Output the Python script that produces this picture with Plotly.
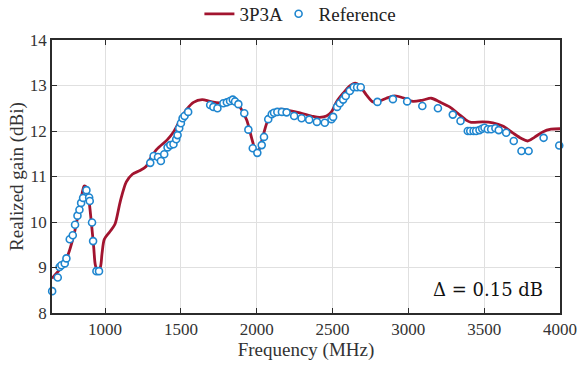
import plotly.graph_objects as go

# 3P3A simulated curve
sim_freq = [650, 706, 750, 794, 826, 849, 862, 877, 892, 908, 925, 936, 951, 969, 980, 995,
            1030, 1065, 1100, 1140, 1180, 1230, 1270, 1300, 1342, 1408, 1451, 1495, 1539, 1583,
            1640, 1693, 1758, 1824, 1857, 1890, 1934, 1967, 1995, 2010, 2033, 2066, 2099, 2153,
            2197, 2285, 2372, 2416, 2460, 2493, 2526, 2570, 2614, 2650, 2680, 2724, 2767, 2811,
            2855, 2910, 2964, 3030, 3096, 3151, 3206, 3272, 3326, 3381, 3414, 3491, 3557, 3622,
            3688, 3743, 3787, 3831, 3886, 3941, 4000]
sim_gain = [8.76, 8.98, 9.23, 9.71, 10.22, 10.63, 10.79, 10.76, 10.52, 10.04, 9.45, 9.05, 8.93,
            9.01, 9.31, 9.62, 9.78, 9.95, 10.45, 10.88, 11.05, 11.13, 11.22, 11.40, 11.60, 11.80,
            11.98, 12.24, 12.48, 12.63, 12.69, 12.65, 12.62, 12.69, 12.67, 12.53, 12.24, 11.84,
            11.55, 11.55, 11.78, 12.17, 12.39, 12.48, 12.46, 12.40, 12.32, 12.30, 12.33, 12.42,
            12.64, 12.83, 12.99, 13.05, 12.99, 12.79, 12.64, 12.66, 12.72, 12.77, 12.73, 12.65,
            12.68, 12.72, 12.64, 12.53, 12.39, 12.24, 12.19, 12.20, 12.18, 12.11, 11.96, 11.84,
            11.78, 11.86, 11.98, 12.04, 12.05]

# Reference measured points
ref_freq = [651, 688, 700, 712, 734, 745, 767, 787, 802, 818, 831, 842, 855, 877, 895, 899, 914,
            921, 943, 960, 1298, 1320, 1349, 1368, 1390, 1412, 1430, 1451, 1469, 1478, 1489, 1500,
            1511, 1524, 1548, 1693, 1714, 1741, 1780, 1803, 1824, 1842, 1857, 1879, 1918, 1945,
            1974, 2004, 2033, 2048, 2076, 2099, 2114, 2136, 2166, 2197, 2247, 2296, 2346, 2397,
            2449, 2493, 2504, 2530, 2548, 2570, 2587, 2614, 2640, 2662, 2686, 2796, 2898, 2992,
            3092, 3195, 3293, 3344, 3392, 3408, 3430, 3447, 3469, 3487, 3502, 3524, 3546, 3574,
            3596, 3645, 3695, 3746, 3793, 3892, 3995]
ref_gain = [8.48, 8.78, 9.01, 9.05, 9.09, 9.20, 9.62, 9.71, 9.94, 10.14, 10.27, 10.42, 10.53,
            10.70, 10.54, 10.46, 9.99, 9.58, 8.92, 8.92, 11.30, 11.45, 11.43, 11.34, 11.49, 11.64,
            11.69, 11.71, 11.82, 11.91, 12.06, 12.17, 12.28, 12.33, 12.42, 12.57, 12.53, 12.50,
            12.61, 12.63, 12.66, 12.69, 12.65, 12.59, 12.39, 12.03, 11.62, 11.52, 11.69, 11.87,
            12.26, 12.37, 12.40, 12.42, 12.42, 12.41, 12.33, 12.28, 12.25, 12.20, 12.18, 12.26,
            12.31, 12.53, 12.61, 12.69, 12.77, 12.88, 12.96, 12.96, 12.96, 12.64, 12.70, 12.65,
            12.55, 12.50, 12.36, 12.22, 12.00, 12.00, 12.00, 12.00, 12.02, 12.05, 12.07, 12.04,
            12.04, 12.06, 12.02, 11.96, 11.78, 11.56, 11.56, 11.85, 11.68]

x_ticks = [1000, 1500, 2000, 2500, 3000, 3500, 4000]
y_ticks = [8, 9, 10, 11, 12, 13, 14]

font_family = "Liberation Serif"

fig = go.Figure()
fig.add_trace(go.Scatter(
    x=sim_freq, y=sim_gain, mode="lines", name="3P3A", legend="legend",
    line=dict(color="#A2142F", width=2.8, shape="spline", smoothing=0.8),
))
fig.add_trace(go.Scatter(
    x=ref_freq, y=ref_gain, mode="markers", name="Reference", legend="legend2",
    marker=dict(symbol="circle", size=7, color="white", line=dict(width=1.6, color="#1F86CF")),
    cliponaxis=False,
))

axis_common = dict(
    showline=True, linecolor="#2b2b2b", linewidth=1.5, mirror="ticks",
    ticks="inside", ticklen=5, tickcolor="#2b2b2b", tickwidth=1.2,
    showgrid=True, gridcolor="#E0E0E0", gridwidth=1, zeroline=False,
    automargin=False,
    tickfont=dict(family=font_family, size=17, color="#333333"),
)

legend_common = dict(orientation="h", xanchor="left", xref="container",
                     y=0.962, yanchor="middle", yref="container",
                     font=dict(family=font_family, size=19, color="#222222"),
                     bgcolor="rgba(0,0,0,0)", itemwidth=30, tracegroupgap=0)

fig.update_layout(
    width=578, height=367,
    margin=dict(l=52, r=18, t=40, b=54, autoexpand=False),
    paper_bgcolor="white", plot_bgcolor="white",
    font=dict(family=font_family, size=17, color="#333333"),
    showlegend=True,
    legend=dict(x=0.345, **legend_common),
    legend2=dict(x=0.482, **legend_common),
    xaxis=dict(range=[650, 4000], tickvals=x_ticks,
               title=dict(text="Frequency (MHz)", standoff=4,
                          font=dict(family=font_family, size=19, color="#333333")),
               **axis_common),
    yaxis=dict(range=[8, 14], tickvals=y_ticks,
               title=dict(text="Realized gain (dBi)", standoff=1,
                          font=dict(family=font_family, size=19, color="#333333")),
               **axis_common),
    annotations=[dict(
        x=0.97, y=0.04, xref="paper", yref="paper", xanchor="right", yanchor="bottom",
        text="Δ = 0.15 dB", showarrow=False,
        font=dict(family="DejaVu Serif, serif", size=18, color="#111111"),
    )],
)

fig.write_html("out.html")
